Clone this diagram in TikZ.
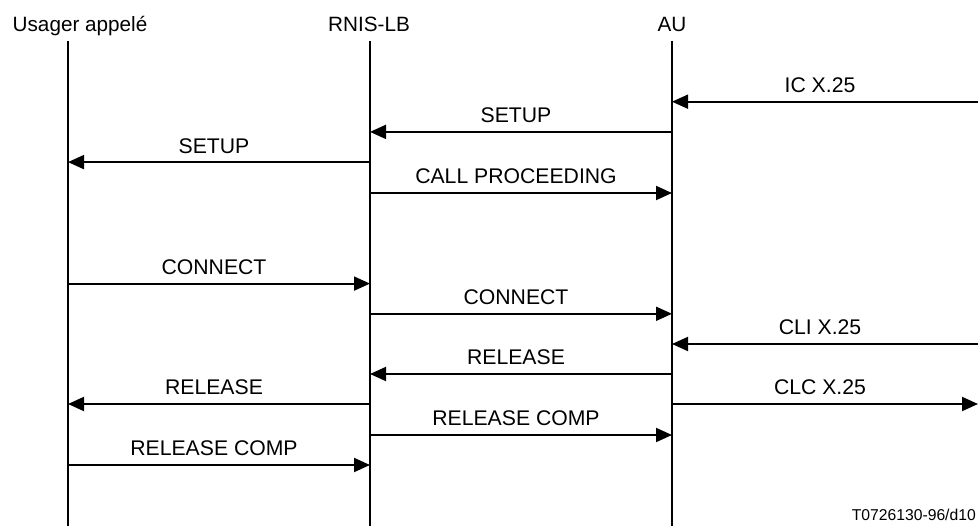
\documentclass[tikz,border=0pt]{standalone}
\usepackage{fontspec}
\setmainfont{Liberation Sans}
\usetikzlibrary{arrows.meta}
\tikzset{
  life/.style={line width=1.9pt},
  msg/.style={line width=1.9pt,-{Triangle[length=16pt,width=14pt]}},
  lbl/.style={midway,anchor=base,yshift=9pt,xshift=-5pt,inner sep=0pt,font=\fontsize{21.2}{23}\selectfont},
  hdr/.style={anchor=base,inner sep=0pt,font=\fontsize{20.7}{23}\selectfont}
}
\begin{document}
\begin{tikzpicture}[x=1pt,y=-1pt]
\useasboundingbox (0,0) rectangle (978,526);
% lifeline positions
\coordinate (U) at (68,41);
\coordinate (R) at (370,41);
\coordinate (A) at (672,41);
\coordinate (E) at (978,41);
\coordinate (Ub) at (68,526);
\coordinate (Rb) at (370,526);
\coordinate (Ab) at (672,526);
% headers
\node[hdr,anchor=base west] (hU) at (12.5,31.7) {Usager appelé};
\node[hdr] (hR) at (369,31.7) {RNIS-LB};
\node[hdr] (hA) at (672,31.7) {AU};
% lifelines
\draw[life] (U) -- (Ub);
\draw[life] (R) -- (Rb);
\draw[life] (A) -- (Ab);
% rows
\coordinate (r1) at (0,101.7);
\coordinate (r2) at (0,131.9);
\coordinate (r3) at (0,162.1);
\coordinate (r4) at (0,193.0);
\coordinate (r5) at (0,283.6);
\coordinate (r6) at (0,313.8);
\coordinate (r7) at (0,344.0);
\coordinate (r8) at (0,374.0);
\coordinate (r9) at (0,404.0);
\coordinate (r10) at (0,435.0);
\coordinate (r11) at (0,465.0);
% messages
\draw[msg] (E|-r1) -- (A|-r1) node[lbl] {IC X.25};
\draw[msg] (A|-r2) -- (R|-r2) node[lbl] {SETUP};
\draw[msg] (R|-r3) -- (U|-r3) node[lbl] {SETUP};
\draw[msg] (R|-r4) -- (A|-r4) node[lbl] {CALL PROCEEDING};
\draw[msg] (U|-r5) -- (R|-r5) node[lbl] {CONNECT};
\draw[msg] (R|-r6) -- (A|-r6) node[lbl] {CONNECT};
\draw[msg] (E|-r7) -- (A|-r7) node[lbl] {CLI X.25};
\draw[msg] (A|-r8) -- (R|-r8) node[lbl] {RELEASE};
\draw[msg] (R|-r9) -- (U|-r9) node[lbl] {RELEASE};
\draw[msg] (A|-r9) -- (E|-r9) node[lbl] {CLC X.25};
\draw[msg] (R|-r10) -- (A|-r10) node[lbl] {RELEASE COMP};
\draw[msg] (U|-r11) -- (R|-r11) node[lbl] {RELEASE COMP};
% footer
\node[anchor=base east,inner sep=0pt,font=\fontsize{15.7}{17}\selectfont] (ft) at (976,521) {T0726130-96/d10};
\end{tikzpicture}
\end{document}
